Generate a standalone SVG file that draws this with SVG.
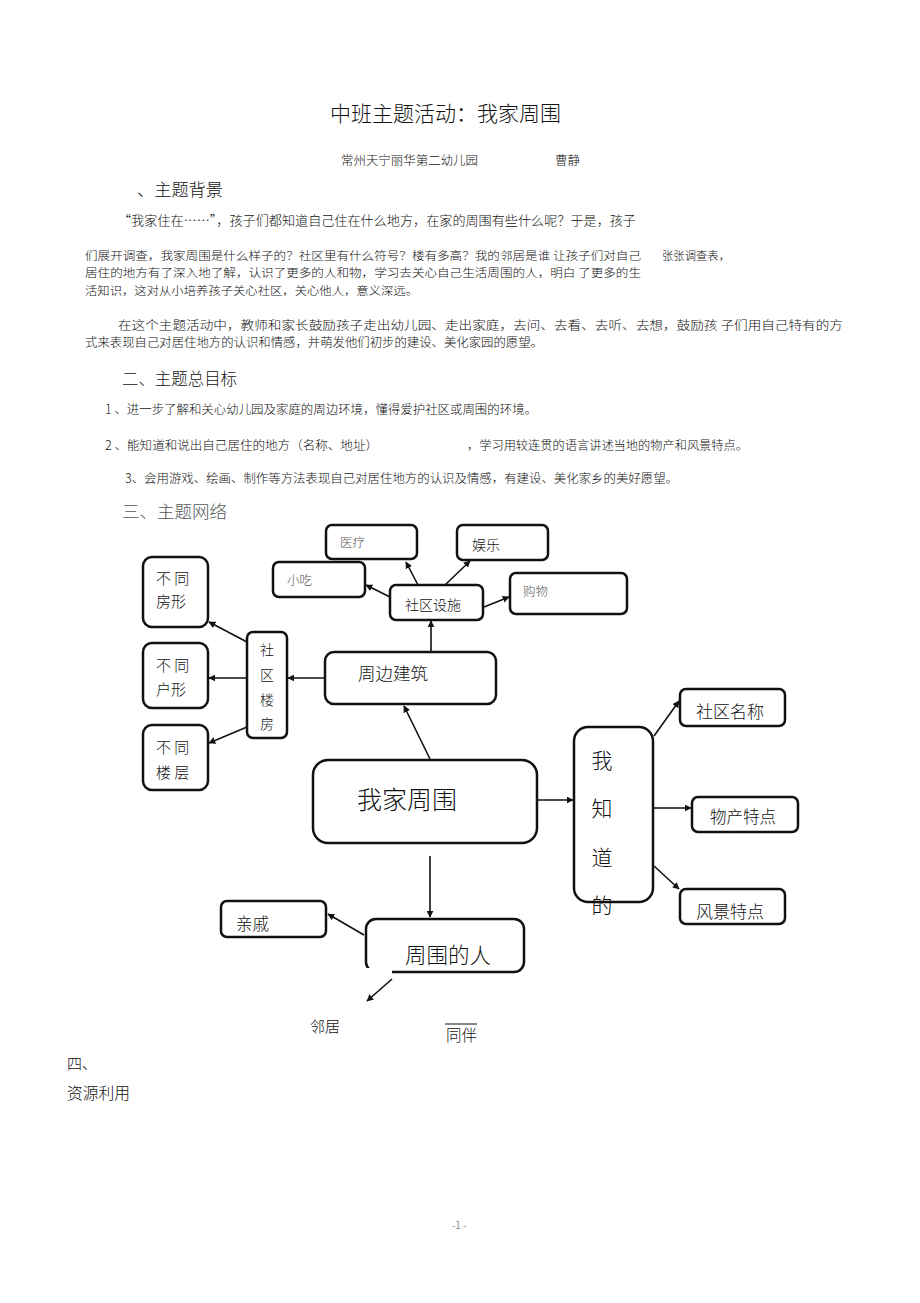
<svg xmlns="http://www.w3.org/2000/svg" width="920" height="1303" viewBox="0 0 920 1303">
<style>
text{font-family:"Noto Sans CJK SC","Liberation Serif",serif;fill:#111;font-weight:300;}
.box{fill:#fff;stroke:#111;stroke-width:2.5;}
.ln{stroke:#111;stroke-width:1.6;fill:none;marker-end:url(#ah);}
.g{fill:#555;}
</style>
<defs>
<marker id="ah" viewBox="0 0 10 10" refX="9" refY="5" markerWidth="7" markerHeight="7" orient="auto" markerUnits="userSpaceOnUse">
<path d="M0,0 L10,5 L0,10 z" fill="#111"/>
</marker>
</defs>
<rect width="920" height="1303" fill="#fff"/>

<g id="text-body">
<text x="330" y="121" font-size="21" textLength="231" lengthAdjust="spacingAndGlyphs">中班主题活动：我家周围</text>
<text x="341" y="165" font-size="12.5" textLength="137" lengthAdjust="spacingAndGlyphs">常州天宁丽华第二幼儿园</text>
<text x="555" y="165" font-size="12.5">曹静</text>
<text x="137" y="196" font-size="17" textLength="86" lengthAdjust="spacingAndGlyphs">、主题背景</text>
<text x="118" y="225" font-size="13" textLength="518" lengthAdjust="spacingAndGlyphs">“我家住在……”，孩子们都知道自己住在什么地方，在家的周围有些什么呢？于是，孩子</text>
<text x="85" y="260" font-size="11.5" textLength="556" lengthAdjust="spacingAndGlyphs">们展开调查，我家周围是什么样子的？社区里有什么符号？楼有多高？我的邻居是谁 让孩子们对自己</text>
<text x="662" y="260" font-size="11.5" textLength="68" lengthAdjust="spacingAndGlyphs">张张调查表，</text>
<text x="85" y="277" font-size="11.5" textLength="556" lengthAdjust="spacingAndGlyphs">居住的地方有了深入地了解，认识了更多的人和物，学习去关心自己生活周围的人，明白 了更多的生</text>
<text x="85" y="295" font-size="11.5" textLength="333" lengthAdjust="spacingAndGlyphs">活知识，这对从小培养孩子关心社区，关心他人，意义深远。</text>
<text x="118" y="330" font-size="12" textLength="725" lengthAdjust="spacingAndGlyphs">在这个主题活动中，教师和家长鼓励孩子走出幼儿园、走出家庭，去问、去看、去听、去想，鼓励孩 子们用自己特有的方</text>
<text x="85" y="347" font-size="12" textLength="458" lengthAdjust="spacingAndGlyphs">式来表现自己对居住地方的认识和情感，并萌发他们初步的建设、美化家园的愿望。</text>
<text x="122" y="385" font-size="16.5" textLength="115" lengthAdjust="spacingAndGlyphs">二、主题总目标</text>
<text x="105" y="414" font-size="12.5" textLength="432" lengthAdjust="spacingAndGlyphs">1 、进一步了解和关心幼儿园及家庭的周边环境，懂得爱护社区或周围的环境。</text>
<text x="105" y="450" font-size="12.5" textLength="273" lengthAdjust="spacingAndGlyphs">2 、能知道和说出自己居住的地方（名称、地址）</text>
<text x="467" y="450" font-size="12.5" textLength="281" lengthAdjust="spacingAndGlyphs">，学习用较连贯的语言讲述当地的物产和风景特点。</text>
<text x="125" y="483" font-size="12.5" textLength="553" lengthAdjust="spacingAndGlyphs">3、会用游戏、绘画、制作等方法表现自己对居住地方的认识及情感，有建设、美化家乡的美好愿望。</text>
<text x="122" y="518" font-size="17.5" textLength="105" lengthAdjust="spacingAndGlyphs" class="g">三、主题网络</text>
<text x="67" y="1069" font-size="15">四、</text>
<text x="67" y="1099" font-size="16" textLength="63" lengthAdjust="spacingAndGlyphs">资源利用</text>
<text x="452" y="1229" font-size="10" class="g">-1 -</text>
</g>

<g id="connectors">
<line class="ln" x1="430" y1="759" x2="404" y2="706"/>
<line class="ln" x1="325" y1="678" x2="288" y2="678"/>
<line class="ln" x1="431" y1="651" x2="431" y2="621"/>
<line class="ln" x1="390" y1="597" x2="366" y2="585"/>
<line class="ln" x1="418" y1="585" x2="406" y2="562"/>
<line class="ln" x1="445" y1="585" x2="470" y2="561"/>
<line class="ln" x1="484" y1="607" x2="509" y2="597"/>
<line class="ln" x1="247" y1="642" x2="209" y2="622"/>
<line class="ln" x1="247" y1="678" x2="209" y2="678"/>
<line class="ln" x1="247" y1="727" x2="209" y2="743"/>
<line class="ln" x1="537" y1="800" x2="573" y2="800"/>
<line class="ln" x1="654" y1="736" x2="679" y2="701"/>
<line class="ln" x1="653" y1="808" x2="691" y2="808"/>
<line class="ln" x1="654" y1="866" x2="679" y2="889"/>
<line class="ln" x1="430" y1="856" x2="430" y2="917"/>
<line class="ln" x1="364" y1="935" x2="328" y2="914"/>
<line class="ln" x1="392" y1="979" x2="367" y2="1001"/>
</g>

<g id="n-yiliao"><rect class="box" x="326" y="525" width="91" height="34" rx="6"/><text x="340" y="547" font-size="12.5" class="g">医疗</text></g>
<g id="n-yule"><rect class="box" x="457" y="525" width="91" height="35" rx="6"/><text x="472" y="550" font-size="14">娱乐</text></g>
<g id="n-xiaochi"><rect class="box" x="273" y="562" width="92" height="35" rx="6"/><text x="287" y="585" font-size="12.5" class="g">小吃</text></g>
<g id="n-sheshi"><rect class="box" x="390" y="585" width="93" height="35" rx="6"/><text x="405" y="610" font-size="14">社区设施</text></g>
<g id="n-gouwu"><rect class="box" x="510" y="573" width="117" height="41" rx="6"/><text x="523" y="596" font-size="12.5" class="g">购物</text></g>
<g id="n-zhoubian"><rect class="box" x="325" y="652" width="171" height="52" rx="9"/><text x="358" y="680" font-size="17.5">周边建筑</text></g>
<g id="n-loufang"><rect class="box" x="247" y="632" width="40" height="106" rx="6"/>
<text x="267" y="655" font-size="14" text-anchor="middle">社</text>
<text x="267" y="680" font-size="14" text-anchor="middle">区</text>
<text x="267" y="705" font-size="14" text-anchor="middle">楼</text>
<text x="267" y="729" font-size="14" text-anchor="middle">房</text></g>
<g id="n-fangxing"><rect class="box" x="143" y="557" width="65" height="70" rx="9"/><text x="156" y="584" font-size="15">不 同</text><text x="156" y="607" font-size="15">房形</text></g>
<g id="n-huxing"><rect class="box" x="143" y="643" width="65" height="65" rx="9"/><text x="156" y="671" font-size="15">不 同</text><text x="156" y="695" font-size="15">户形</text></g>
<g id="n-louceng"><rect class="box" x="143" y="725" width="65" height="65" rx="9"/><text x="156" y="753" font-size="15">不 同</text><text x="156" y="778" font-size="15">楼 层</text></g>
<g id="n-center"><rect class="box" x="313" y="760" width="224" height="83" rx="15"/><text x="357" y="809" font-size="25">我家周围</text></g>
<g id="n-zhidao"><rect class="box" x="574" y="727" width="79" height="175" rx="14"/>
<text x="602" y="768" font-size="21" text-anchor="middle">我</text>
<text x="602" y="816" font-size="21" text-anchor="middle">知</text>
<text x="602" y="865" font-size="21" text-anchor="middle">道</text>
<text x="602" y="913" font-size="21" text-anchor="middle">的</text></g>
<g id="n-mingcheng"><rect class="box" x="680" y="689" width="105" height="37" rx="6"/><text x="696" y="718" font-size="17">社区名称</text></g>
<g id="n-wuchan"><rect class="box" x="692" y="797" width="106" height="35" rx="6"/><text x="710" y="823" font-size="16.5">物产特点</text></g>
<g id="n-fengjing"><rect class="box" x="680" y="889" width="105" height="35" rx="6"/><text x="696" y="918" font-size="17">风景特点</text></g>
<g id="n-ren"><rect class="box" x="366" y="919" width="158" height="53" rx="10"/><rect x="364" y="968" width="28" height="8" fill="#fff"/><text x="405" y="963" font-size="21.5">周围的人</text></g>
<g id="n-qinqi"><rect class="box" x="221" y="901" width="105" height="36" rx="6"/><text x="236" y="930" font-size="16.5">亲戚</text></g>
<g id="n-linju"><text x="310" y="1032" font-size="15">邻居</text></g>
<g id="n-tongban"><line x1="445" y1="1024" x2="477" y2="1024" stroke="#111" stroke-width="1"/><text x="446" y="1041" font-size="15.5">同伴</text></g>
</svg>
